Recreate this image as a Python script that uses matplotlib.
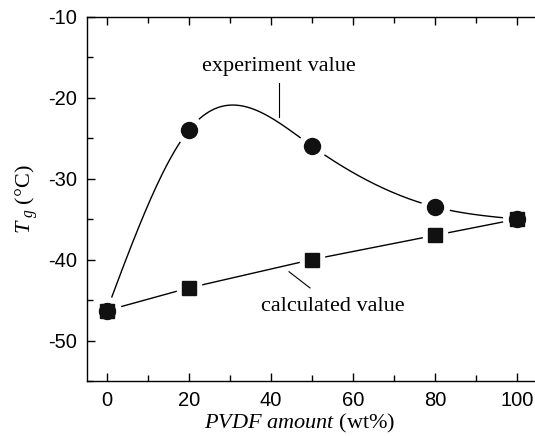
import numpy as np
import matplotlib
matplotlib.use("Agg")
import matplotlib.pyplot as plt
from matplotlib.ticker import MultipleLocator

plt.rcParams['mathtext.fontset'] = 'custom'
plt.rcParams['mathtext.rm'] = 'Liberation Serif'
plt.rcParams['mathtext.it'] = 'Liberation Serif:italic'
plt.rcParams['axes.unicode_minus'] = False

pvdf = [0, 20, 50, 80, 100]
tg_experiment = [-46.3, -24.0, -26.0, -33.5, -35.0]
tg_calculated = [-46.3, -43.5, -40.0, -37.0, -35.0]
x_ticks = [0, 20, 40, 60, 80, 100]
y_ticks = [-50, -40, -30, -20, -10]


def natural_spline(x, y, n=400):
    x = np.asarray(x, float); y = np.asarray(y, float)
    k = len(x); h = np.diff(x)
    A = np.zeros((k, k)); b = np.zeros(k)
    A[0, 0] = 1; A[-1, -1] = 1
    for i in range(1, k - 1):
        A[i, i - 1] = h[i - 1]; A[i, i] = 2 * (h[i - 1] + h[i]); A[i, i + 1] = h[i]
        b[i] = 6 * ((y[i + 1] - y[i]) / h[i] - (y[i] - y[i - 1]) / h[i - 1])
    M = np.linalg.solve(A, b)
    xs = np.linspace(x[0], x[-1], n); ys = np.empty_like(xs)
    for j, t in enumerate(xs):
        i = min(np.searchsorted(x, t, side='right') - 1, k - 2)
        dx1 = x[i + 1] - t; dx0 = t - x[i]
        ys[j] = (M[i] * dx1**3 / (6 * h[i]) + M[i + 1] * dx0**3 / (6 * h[i])
                 + (y[i] / h[i] - M[i] * h[i] / 6) * dx1
                 + (y[i + 1] / h[i] - M[i + 1] * h[i] / 6) * dx0)
    return xs, ys


fig = plt.figure(figsize=(5.35, 4.36), dpi=100)
ax = fig.add_axes([0.1626, 0.1261, 0.8374, 0.8356])

xs, ys = natural_spline(pvdf, tg_experiment)
ax.plot(xs, ys, color='black', lw=1.0, zorder=1)
ax.plot(pvdf, tg_calculated, color='black', lw=1.0, zorder=1)

# white halos creating gaps between lines and markers
ax.plot(pvdf, tg_experiment, 'o', ms=20, color='white', zorder=2)
ax.plot(pvdf, tg_calculated, 's', ms=17, color='white', zorder=2)
ax.plot(pvdf, tg_calculated, 's', ms=9.5, color='#111111', zorder=3)
ax.plot(pvdf, tg_experiment, 'o', ms=11.5, color='#111111', zorder=4)

ax.set_xlim(-4.8, 104.3)
ax.set_ylim(-55, -10)
ax.set_xticks(x_ticks)
ax.set_yticks(y_ticks)
ax.xaxis.set_minor_locator(MultipleLocator(10))
ax.yaxis.set_minor_locator(MultipleLocator(5))
ax.spines['right'].set_visible(False)
for s in ['left', 'bottom', 'top']:
    ax.spines[s].set_linewidth(1.0)
ax.tick_params(which='both', direction='in', top=True, right=False,
               labelsize=14.5, width=1.0, pad=7)
ax.tick_params(which='major', length=6)
ax.tick_params(which='minor', length=4)
for lab in ax.get_xticklabels() + ax.get_yticklabels():
    lab.set_fontfamily('Liberation Sans')

ax.set_xlabel(r'$\mathit{PVDF\ amount}$ (wt%)', fontsize=16,
              fontfamily='Liberation Serif')
ax.xaxis.set_label_coords(0.475, -0.085)
ax.set_ylabel(r'$T_{\ g}$ (°C)', fontsize=16, fontfamily='Liberation Serif', labelpad=6)

ax.text(42, -16.2, 'experiment value', fontsize=16, fontfamily='Liberation Serif',
        ha='center', va='center')
ax.plot([42, 42], [-18.2, -22.4], color='black', lw=0.8)
ax.text(55, -45.8, 'calculated value', fontsize=16, fontfamily='Liberation Serif',
        ha='center', va='center')
ax.plot([44.4, 49.5], [-41.5, -43.5], color='black', lw=0.8)

fig.savefig('out.png', dpi=100)
